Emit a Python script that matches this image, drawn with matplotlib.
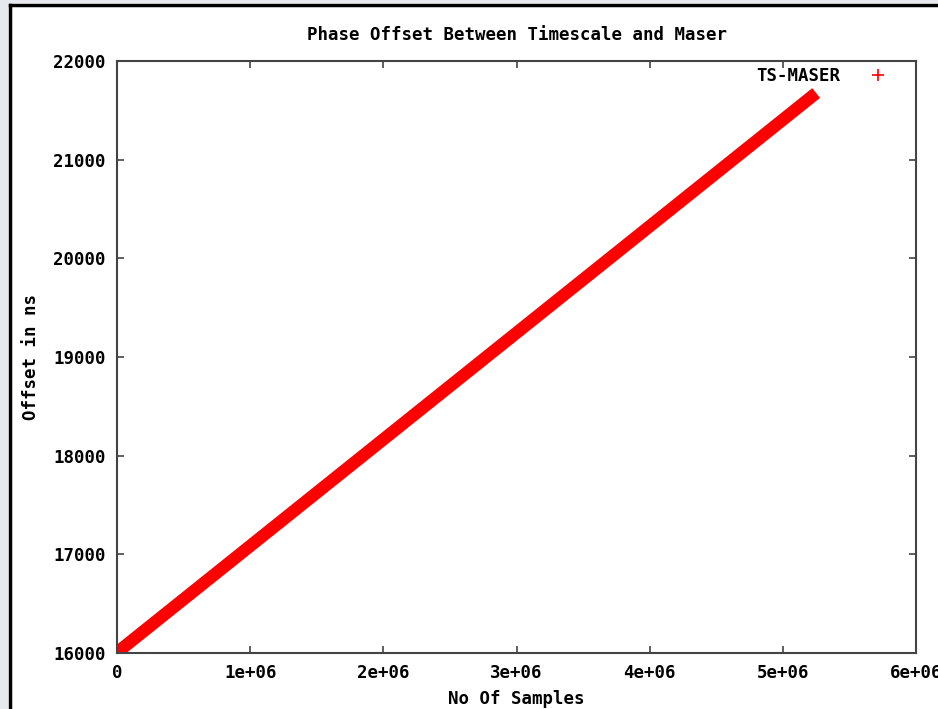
import matplotlib
matplotlib.use("Agg")
import matplotlib.pyplot as plt
from matplotlib.lines import Line2D
from matplotlib.patches import Rectangle

# -----------------------------
# DATA
# -----------------------------
samples = [0, 1e6, 2e6, 3e6, 4e6, 5e6, 5.25e6]
offset_ns = [16005, 17085, 18165, 19245, 20325, 21405, 21675]

x_ticks = [0, 1e6, 2e6, 3e6, 4e6, 5e6, 6e6]
x_tick_labels = ["0", "1e+06", "2e+06", "3e+06", "4e+06", "5e+06", "6e+06"]
y_ticks = [16000, 17000, 18000, 19000, 20000, 21000, 22000]

FONT = dict(family="DejaVu Sans Mono", weight="bold", size=12.5)
EDGE = "#444444"

fig = plt.figure(figsize=(9.38, 7.09), dpi=100)
fig.patch.set_facecolor("white")

# grey page edge + black frame round the screenshot
fig.add_artist(Rectangle((0, 0), 8 / 938, 1, transform=fig.transFigure,
                         facecolor="#e6eaef", edgecolor="none", zorder=0))
fig.add_artist(Rectangle((0, 1 - 3 / 709), 1, 3 / 709, transform=fig.transFigure,
                         facecolor="#e6eaef", edgecolor="none", zorder=0))
fig.add_artist(Line2D([9.5 / 938, 9.5 / 938], [0, 1 - 4.5 / 709], transform=fig.transFigure,
                      color="black", lw=2.5))
fig.add_artist(Line2D([9.5 / 938, 1], [1 - 4.5 / 709, 1 - 4.5 / 709], transform=fig.transFigure,
                      color="black", lw=2.5))

ax = fig.add_axes([117 / 938, 1 - 653 / 709, (916 - 117) / 938, (653 - 61) / 709])

ax.plot(samples, offset_ns, color="red", lw=9, solid_capstyle="butt")

ax.set_xlim(0, 6e6)
ax.set_ylim(16000, 22000)
ax.set_xticks(x_ticks)
ax.set_xticklabels(x_tick_labels, **FONT)
ax.set_yticks(y_ticks)
ax.set_yticklabels([str(v) for v in y_ticks], **FONT)
ax.tick_params(direction="in", length=5, width=1.2, color=EDGE,
               top=True, right=True, pad=8)
for s in ax.spines.values():
    s.set_color(EDGE)
    s.set_linewidth(1.5)

ax.set_title("Phase Offset Between Timescale and Maser", pad=15, **FONT)
ax.set_xlabel("No Of Samples", labelpad=6, **FONT)
ax.set_ylabel("Offset in ns", labelpad=10, **FONT)

handle = Line2D([], [], color="red", marker="+", linestyle="none",
                markersize=9, markeredgewidth=1.2)
leg = ax.legend([handle], ["TS-MASER"], loc="upper right", frameon=False,
                markerfirst=False, prop=dict(family="DejaVu Sans Mono", weight="bold", size=12.5),
                borderaxespad=0.3, handletextpad=1.2, bbox_to_anchor=(0.99, 1.01))

fig.savefig("out.png", dpi=100)
